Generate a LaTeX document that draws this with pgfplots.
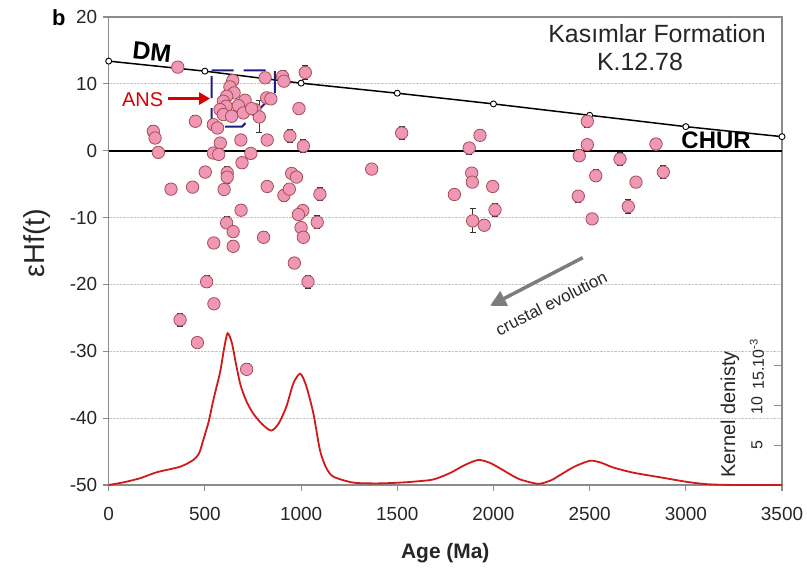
\documentclass[border=0pt]{standalone}
\usepackage{fontspec}
\setmainfont{Liberation Sans}
\usepackage{pgfplots}
\usepackage{pgfplotstable}
\pgfplotsset{compat=1.18}
\usetikzlibrary{arrows.meta}

\definecolor{ptfill}{RGB}{240,150,182}
\definecolor{ptedge}{RGB}{165,80,80}
\definecolor{kde}{RGB}{210,25,25}
\definecolor{ansblue}{RGB}{30,30,130}
\definecolor{framegray}{RGB}{140,140,140}
\definecolor{arrowgray}{RGB}{125,125,125}

\pgfplotstableread{
x y e
359 12.5 0.8
645 10.5 0.8
813 10.9 0.8
904 11.1 0.9
911 10.4 0.8
1022 11.7 1.1
989 6.3 0.8
630 9.55 0.8
652 8.65 0.8
613 8.15 0.8
596 7.4 0.8
610 6.65 0.8
709 7.55 0.8
674 6.75 0.8
760 6.15 0.8
821 7.9 0.8
843 7.75 0.8
783 5.05 2.4
579 6.15 0.8
596 5.4 0.8
639 5.15 0.8
700 5.65 0.8
743 6.3 0.8
451 4.4 0.8
544 3.9 0.8
566 3.4 0.8
232 2.9 0.8
241 1.9 0.8
258 -0.25 0.8
580 1.15 0.8
687 1.6 0.8
824 1.6 0.8
942 2.2 0.9
1012 0.7 1.0
544 -0.35 0.8
572 -0.55 0.8
739 -0.4 0.8
693 -1.8 0.8
502 -3.2 0.8
616 -3.3 0.9
616 -3.95 0.9
951 -3.4 0.8
976 -3.95 0.8
324 -5.75 0.8
436 -5.45 0.8
600 -5.8 0.8
824 -5.35 0.8
911 -6.7 0.9
939 -5.75 0.8
1098 -6.5 1.0
688 -8.9 0.8
1009 -8.95 0.8
986 -9.55 0.8
1084 -10.7 1.0
613 -10.8 0.9
647 -12.1 0.8
1000 -11.5 0.8
1012 -12.95 0.8
805 -12.95 0.8
546 -13.8 0.8
647 -14.3 0.8
965 -16.8 0.8
1036 -19.6 1.0
509 -19.6 0.9
547 -22.9 0.8
371 -25.3 1.0
461 -28.7 0.8
717 -32.7 0.8
1367 -2.75 0.8
1523 2.65 0.9
1930 2.3 0.8
1874 0.4 0.9
1887 -3.35 0.9
1890 -4.7 0.8
1797 -6.55 0.8
1996 -5.35 0.8
2008 -8.85 1.0
1892 -10.5 1.8
1952 -11.15 0.8
2488 4.4 0.9
2488 0.9 0.8
2446 -0.75 0.9
2658 -1.25 1.0
2532 -3.75 0.9
2741 -4.7 0.8
2441 -6.8 0.9
2701 -8.35 1.0
2513 -10.2 0.8
2845 1.0 0.9
2883 -3.2 1.0
}\hfdata

\pgfplotstableread{
x y
0 13.4
500 11.9
1000 10.1
1500 8.6
2000 7.0
2500 5.3
3000 3.6
3500 2.1
}\dmdata

\pgfplotstableread{
x d
0 0
80 0.35
163 0.85
249 1.6
371 2.3
440 3.15
470 4.0
492 5.7
520 8.0
544 10.7
579 14.2
600 17.2
618 19.1
640 17.9
662 15.2
685 12.6
715 10.6
751 9.0
800 7.6
846 6.85
885 7.8
924 9.9
960 12.8
995 14.0
1025 12.6
1064 9.0
1098 4.4
1130 2.2
1168 1.05
1272 0.3
1400 0.2
1514 0.3
1600 0.45
1688 0.7
1774 1.5
1850 2.5
1921 3.15
1980 2.8
2034 2.1
2090 1.3
2138 0.7
2233 0.15
2300 0.6
2346 1.25
2420 2.3
2502 3.05
2560 2.8
2623 2.2
2727 1.55
2866 0.97
3004 0.4
3100 0.12
3200 0.02
3350 0
3500 0
}\kdedata

\begin{document}
\begin{tikzpicture}[x=1bp,y=1bp]
\begin{axis}[
  at={(0,0)}, anchor=south west,
  scale only axis, width=673.3bp, height=468bp,
  xmin=0, xmax=3500, ymin=-50, ymax=20,
  xtick={0,500,...,3500}, ytick={-50,-40,...,20},
  xtick pos=bottom, ytick pos=left,
  tick align=outside, major tick length=6bp,
  axis line style={draw=framegray, line width=1.1bp},
  every tick/.style={draw=framegray, line width=1.1bp},
  ymajorgrids, grid style={densely dotted, draw=gray!45, line width=0.9bp},
  tick label style={font=\fontsize{19}{20}\selectfont, text=black!85},
  /pgf/number format/assume math mode=true,
  /pgf/number format/1000 sep={},
  xticklabel style={yshift=-13bp},
  yticklabel style={xshift=-2bp},
  clip=false,
]
% CHUR
\addplot[black, line width=1.7bp] coordinates {(0,0) (3500,0)};
% DM
\addplot[black, line width=1.5bp, mark=*, mark size=3bp,
  mark options={fill=white, draw=black, line width=0.9bp}] table[x=x,y=y] {\dmdata};
% data
\addplot[only marks, mark=*, mark size=6.2bp,
  mark options={fill=ptfill, draw=ptedge, line width=0.8bp},
  error bars/.cd, y dir=both, y explicit,
  error bar style={black!80, line width=0.8bp},
  error mark options={rotate=90, mark size=3bp, black!80, line width=1bp}]
  table[x=x, y=y, y error=e] {\hfdata};
% ANS box
\draw[ansblue, line width=2bp, dash pattern=on 22bp off 10bp]
  (axis cs:535,12.0) -- (axis cs:864,12.0) -- (axis cs:864,8.55)
  -- (axis cs:693,3.6) -- (axis cs:535,3.6) -- cycle;
\draw[red!85!black, line width=2.6bp, -{Triangle[length=11bp,width=12bp]}]
  (axis cs:309,7.8) -- (axis cs:527,7.8);
\node[red!85!black, font=\fontsize{20}{22}\selectfont] at (axis cs:176,7.7) {ANS};
% crustal evolution
\draw[arrowgray, line width=3.5bp, -{Triangle[length=16bp,width=16bp]}]
  (axis cs:2464,-16.0) -- (axis cs:1982,-23.2);
\node[rotate=27, font=\fontsize{17}{18}\selectfont, text=black!85] at (axis cs:2300,-22.8) {crustal evolution};
% labels
\node[rotate=-6, font=\fontsize{25}{26}\selectfont\bfseries] at (axis cs:225,14.8) {DM};
\node[font=\fontsize{24}{26}\selectfont\bfseries] at (axis cs:3157,1.6) {CHUR};
\end{axis}

\begin{axis}[
  at={(0,0)}, anchor=south west,
  scale only axis, width=673.3bp, height=468bp,
  xmin=0, xmax=3500, ymin=0, ymax=58.9,
  hide x axis,
  axis y line*=right,
  axis line style={draw=none},
  ytick={5,10,15}, yticklabels={},
  tick align=inside, major tick length=8bp,
  every tick/.style={draw=framegray, line width=1.1bp},
  clip=false,
]
\addplot[kde, line width=1.8bp, smooth, tension=0.45] table[x=x,y=d] {\kdedata};
\node[rotate=90, font=\fontsize{16}{18}\selectfont, text=black!85] at (axis cs:3370,5) {5};
\node[rotate=90, font=\fontsize{16}{18}\selectfont, text=black!85] at (axis cs:3370,10) {10};
\node[rotate=90, font=\fontsize{16}{18}\selectfont, text=black!85] at (axis cs:3370,15.2) {15.10\textsuperscript{-3}};
\node[rotate=90, font=\fontsize{20}{22}\selectfont, text=black!85] at (axis cs:3230,8.9) {Kernel denisty};
\end{axis}

\node[font=\fontsize{22}{24}\selectfont\bfseries] at (-50,467) {b};
\node[font=\fontsize{25}{27}\selectfont, text=black!85] at (548.3,451) {Kasımlar Formation};
\node[font=\fontsize{25}{27}\selectfont, text=black!85] at (531.3,423) {K.12.78};
\node[font=\fontsize{21}{23}\selectfont\bfseries, text=black!85] at (336.6,-68) {Age (Ma)};
\node[rotate=90, font=\fontsize{29}{31}\selectfont, text=black!85] at (-72,242) {εHf(t)};

\pgfresetboundingbox
\path (-108.7,-87) rectangle (698.3,485);
\end{tikzpicture}
\end{document}
